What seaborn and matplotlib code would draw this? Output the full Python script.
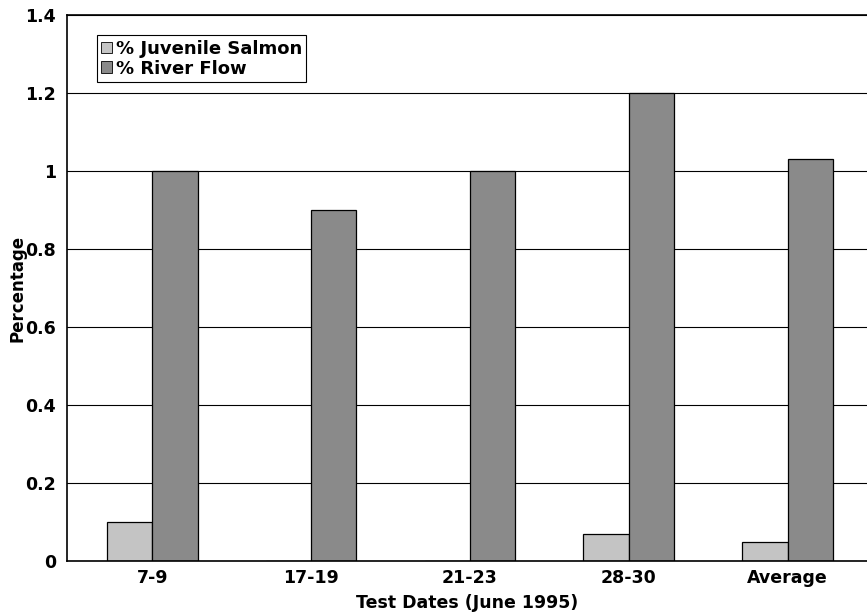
import pandas as pd
import numpy as np
import matplotlib
matplotlib.use('Agg')
import matplotlib.pyplot as plt
import seaborn as sns
from matplotlib.patches import Patch

# Data
dates = ['7-9', '17-19', '21-23', '28-30', 'Average']
juvenile_salmon = [0.10, 0.0, 0.0, 0.07, 0.05]
river_flow = [1.00, 0.90, 1.00, 1.20, 1.03]
series_names = ['% Juvenile Salmon', '% River Flow']
colors = ['#c4c4c4', '#8a8a8a']

df = pd.DataFrame({
    'date': dates * 2,
    'value': juvenile_salmon + river_flow,
    'series': [series_names[0]] * len(dates) + [series_names[1]] * len(dates),
})

sns.set_style('white')
plt.rcParams['font.family'] = ['DejaVu Sans']
plt.rcParams['font.weight'] = 'bold'
plt.rcParams['text.color'] = 'black'
plt.rcParams['axes.labelcolor'] = 'black'
plt.rcParams['xtick.color'] = 'black'
plt.rcParams['ytick.color'] = 'black'

fig = plt.figure(figsize=(8.67, 6.16), dpi=100)
ax = fig.add_axes([67 / 867, 55 / 616, 800 / 867, 546 / 616])

sns.barplot(data=df, x='date', y='value', hue='series', order=dates,
            hue_order=series_names, palette=colors, width=0.57,
            edgecolor='black', linewidth=0.9, saturation=1, ax=ax,
            legend=False)

ax.set_xlim(-0.537, 4.40)
ax.set_ylim(0, 1.4)
ax.set_yticks(np.arange(0, 1.41, 0.2))
ax.set_yticklabels(['0', '0.2', '0.4', '0.6', '0.8', '1', '1.2', '1.4'])
ax.yaxis.grid(True, color='black', linewidth=0.8)
ax.set_axisbelow(True)

# tick marks between categories
ax.set_xticks(np.arange(len(dates) + 1) - 0.5, minor=True)
ax.tick_params(axis='x', which='minor', length=5, width=0.9, color='black', direction='out')
ax.tick_params(axis='x', which='major', length=0, pad=6)
ax.tick_params(axis='y', length=0, pad=8)
for lab in ax.get_xticklabels() + ax.get_yticklabels():
    lab.set_fontsize(12.5)
    lab.set_fontweight('bold')

ax.spines['right'].set_visible(False)
for side in ['left', 'bottom', 'top']:
    ax.spines[side].set_color('black')
    ax.spines[side].set_linewidth(1.2)

ax.set_xlabel('Test Dates (June 1995)', fontsize=12.5, fontweight='bold')
ax.xaxis.set_label_coords(0.5, -0.061)
ax.set_ylabel('Percentage', fontsize=12, fontweight='bold')
ax.yaxis.set_label_coords(-0.051, 0.5)

handles = [Patch(facecolor=c, edgecolor='black', linewidth=0.6) for c in colors]
leg = ax.legend(handles, series_names, loc='upper left', bbox_to_anchor=(0.037, 0.963),
                frameon=True, fancybox=False, framealpha=1, edgecolor='black',
                handlelength=0.6, handleheight=0.6, handletextpad=0.2,
                borderpad=0.25, labelspacing=0.1, borderaxespad=0,
                prop={'size': 13, 'weight': 'bold'})
leg.get_frame().set_linewidth(0.8)

fig.savefig('out.png', dpi=100)
